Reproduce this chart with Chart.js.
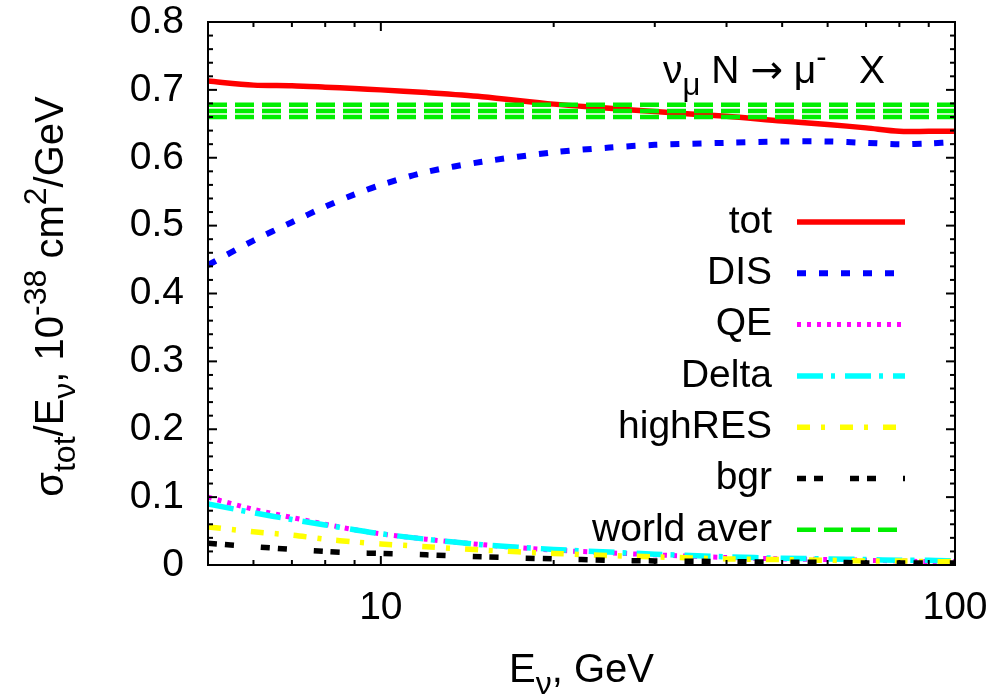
<!DOCTYPE html>
<html>
<head>
<meta charset="utf-8">
<title>numu N cross section</title>
<script src="https://cdn.jsdelivr.net/npm/chart.js@4.4.1/dist/chart.umd.min.js"></script>
<style>
  html, body { margin: 0; padding: 0; background: #fff; }
  #wrap { width: 997px; height: 694px; }
</style>
</head>
<body>
<div id="wrap"><canvas id="xsec"></canvas></div>
<script>
// --- data ---
const energies = [5, 6, 7, 8, 9, 10, 12, 15, 20, 25, 30, 40, 50, 60, 70, 80, 90, 100];
const totVals  = [0.713, 0.707, 0.706, 0.704, 0.702, 0.700, 0.696, 0.690, 0.679, 0.673, 0.668, 0.661, 0.654, 0.649, 0.644, 0.639, 0.639, 0.639];
const disVals  = [0.442, 0.478, 0.505, 0.528, 0.546, 0.560, 0.579, 0.594, 0.608, 0.615, 0.619, 0.622, 0.624, 0.624, 0.622, 0.620, 0.621, 0.623];
const qeVals   = [0.100, 0.082, 0.070, 0.060, 0.052, 0.046, 0.038, 0.030, 0.022, 0.018, 0.015, 0.011, 0.009, 0.008, 0.007, 0.006, 0.005, 0.005];
const deltaVals= [0.090, 0.077, 0.067, 0.059, 0.052, 0.046, 0.038, 0.030, 0.023, 0.019, 0.016, 0.012, 0.010, 0.009, 0.008, 0.007, 0.007, 0.006];
const highResVals = [0.056, 0.049, 0.044, 0.038, 0.034, 0.031, 0.027, 0.022, 0.017, 0.014, 0.012, 0.009, 0.008, 0.007, 0.006, 0.006, 0.005, 0.005];
const bgrVals  = [0.032, 0.027, 0.023, 0.020, 0.018, 0.017, 0.015, 0.012, 0.009, 0.007, 0.006, 0.005, 0.004, 0.004, 0.003, 0.003, 0.003, 0.003];
// world average band: upper, central, lower
const worldAver = [0.678, 0.669, 0.660];

const xTicks = [10, 100];
const xMinorTicks = [6, 7, 8, 9, 20, 30, 40, 50, 60, 70, 80, 90];
const yTicks = [0, 0.1, 0.2, 0.3, 0.4, 0.5, 0.6, 0.7, 0.8];

const FONT = '"Liberation Sans", Arial, sans-serif';
const FS = 39;

function pts(vals) { return energies.map((e, i) => ({ x: e, y: vals[i] })); }
function flat(v) { return [{ x: 5, y: v }, { x: 100, y: v }]; }

// draw text with sub/superscript pieces
function richText(ctx, parts, x, y, size, align) {
    const fontOf = p => Math.round(p.sub || p.sup ? size * 0.8 : size) + 'px ' + (p.font || FONT);
    let total = 0;
    parts.forEach(p => {
        ctx.font = fontOf(p);
        p.w = ctx.measureText(p.t).width;
        total += p.w;
    });
    let cx = align === 'center' ? x - total / 2 : (align === 'right' ? x - total : x);
    ctx.textAlign = 'left';
    ctx.textBaseline = 'alphabetic';
    parts.forEach(p => {
        ctx.font = fontOf(p);
        const dy = p.sub ? size * 0.3 : (p.sup ? -size * 0.42 : 0);
        ctx.fillText(p.t, cx, y + dy);
        cx += p.w;
    });
}

// frame + inward ticks, legend, titles
const decorations = {
    id: 'decorations',
    afterDatasetsDraw(chart) {
        const { ctx, chartArea: a, scales: { x, y } } = chart;
        ctx.save();
        ctx.strokeStyle = '#000';
        ctx.lineWidth = 2;
        ctx.setLineDash([]);
        ctx.strokeRect(a.left, a.top, a.right - a.left, a.bottom - a.top);

        const seg = (x1, y1, x2, y2) => { ctx.beginPath(); ctx.moveTo(x1, y1); ctx.lineTo(x2, y2); ctx.stroke(); };
        xTicks.concat(xMinorTicks).forEach(v => {
            const px = x.getPixelForValue(v);
            const len = xTicks.includes(v) ? 9 : 5;
            seg(px, a.bottom, px, a.bottom - len);
            seg(px, a.top, px, a.top + len);
        });
        for (let i = 0; i <= 40; i++) {
            const v = i * 0.02;
            const py = y.getPixelForValue(v);
            const len = i % 5 === 0 ? 9 : 5;
            seg(a.left, py, a.left + len, py);
            seg(a.right, py, a.right - len, py);
        }

        // legend inside the plot, text right-aligned left of the sample line
        ctx.fillStyle = '#000';
        const items = chart.data.datasets.filter(d => d.inLegend);
        const textX = a.right - 183, lineX1 = a.right - 158, lineX2 = a.right - 50;
        items.forEach((d, i) => {
            const rowY = a.top + 200 + i * 51.3;
            ctx.font = FS + 'px ' + FONT;
            ctx.textAlign = 'right';
            ctx.textBaseline = 'middle';
            ctx.fillText(d.label, textX, rowY);
            ctx.strokeStyle = d.borderColor;
            ctx.lineWidth = d.borderWidth;
            ctx.lineCap = 'butt';
            ctx.setLineDash(d.borderDash || []);
            seg(lineX1, rowY, lineX2, rowY);
        });
        ctx.setLineDash([]);

        // process label
        richText(ctx, [{ t: 'ν' }, { t: 'μ', sub: true }, { t: ' N ' }, { t: '→', font: '"DejaVu Sans"' },
            { t: ' μ' }, { t: '-', sup: true }, { t: '   X' }],
            a.right - 70, a.top + 61, FS, 'right');

        // axis titles
        richText(ctx, [{ t: 'E' }, { t: 'ν', sub: true }, { t: ', GeV' }],
            (a.left + a.right) / 2, a.bottom + 117, 40, 'center');
        ctx.translate(63, (a.top + a.bottom) / 2 + 3);
        ctx.rotate(-Math.PI / 2);
        richText(ctx, [{ t: 'σ' }, { t: 'tot', sub: true }, { t: '/E' }, { t: 'ν', sub: true }, { t: ', 10' },
            { t: '-38', sup: true }, { t: ' cm' }, { t: '2', sup: true }, { t: '/GeV' }], 0, 0, 40, 'center');
        ctx.restore();
    }
};

function line(label, vals, color, dash, width, order) {
    return {
        label: label, data: pts(vals), borderColor: color, borderDash: dash,
        borderWidth: width, pointRadius: 0, fill: false, tension: 0.3,
        borderCapStyle: 'butt', inLegend: true, order: order
    };
}

const datasets = [
    line('tot', totVals, '#ff0000', [], 5.5, 7),
    line('DIS', disVals, '#0000ff', [9, 13], 6, 6),
    line('QE', qeVals, '#ff00ff', [4, 6], 5, 5),
    line('Delta', deltaVals, '#00ffff', [26, 8, 4, 10], 5.5, 4),
    line('highRES', highResVals, '#ffff00', [13, 11, 4, 15], 5.5, 3),
    line('bgr', bgrVals, '#000000', [9, 8, 9, 27], 5.5, 2)
];
worldAver.forEach((v, i) => {
    const d = line('world aver', [], '#00ee00', [19, 8], 4.5, 1);
    d.data = flat(v);
    d.tension = 0;
    d.inLegend = i === 1;
    datasets.push(d);
});

new Chart(document.getElementById('xsec'), {
    type: 'line',
    data: { datasets: datasets },
    options: {
        responsive: true,
        maintainAspectRatio: false,
        animation: false,
        layout: { padding: { top: 22, right: 42, left: 0, bottom: 0 } },
        plugins: { legend: { display: false }, tooltip: { enabled: false } },
        scales: {
            x: {
                type: 'logarithmic', min: 5, max: 100,
                afterBuildTicks: s => { s.ticks = xTicks.map(v => ({ value: v })); },
                afterFit: s => { s.height = 129; s.paddingLeft = 0; s.paddingRight = 0; },
                grid: { display: false, drawTicks: false },
                border: { display: false },
                ticks: {
                    color: '#000', padding: 20, maxRotation: 0,
                    font: { family: FONT, size: FS },
                    callback: v => String(v)
                }
            },
            y: {
                min: 0, max: 0.8,
                afterBuildTicks: s => { s.ticks = yTicks.map(v => ({ value: v })); },
                afterFit: s => { s.width = 208; s.paddingTop = 0; s.paddingBottom = 0; },
                grid: { display: false, drawTicks: false },
                border: { display: false },
                ticks: {
                    color: '#000', padding: 24,
                    font: { family: FONT, size: FS },
                    callback: v => (v === 0 ? '0' : v.toFixed(1))
                }
            }
        }
    },
    plugins: [decorations]
});
</script>
</body>
</html>
